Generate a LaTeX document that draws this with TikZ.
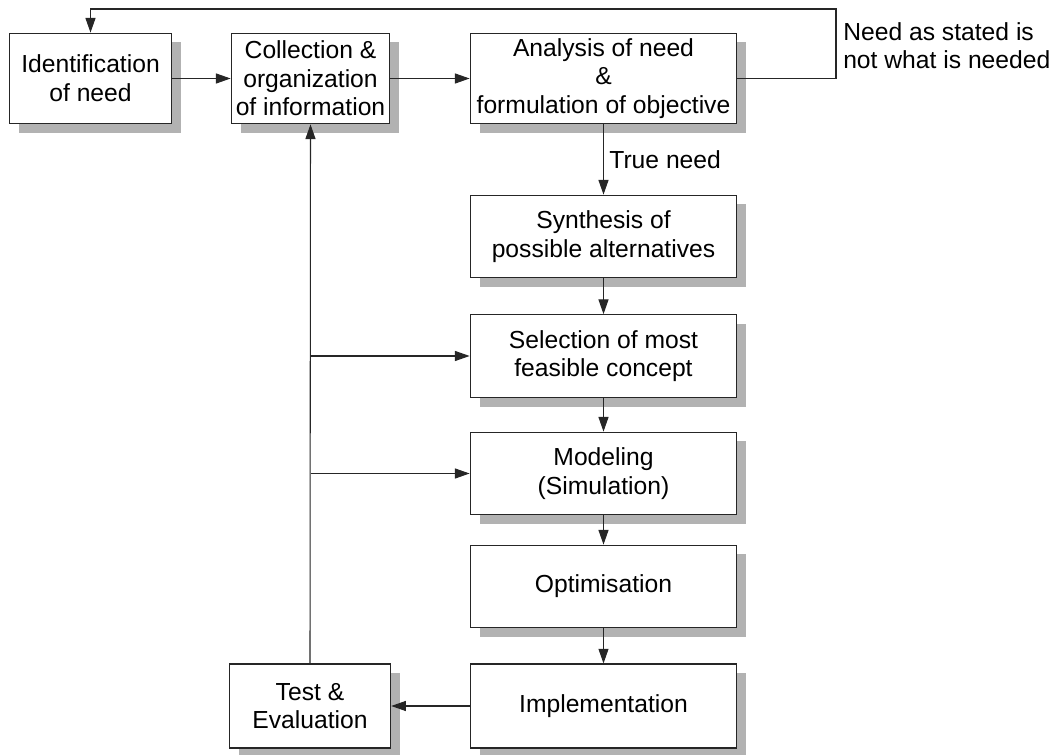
\documentclass[tikz,border=0pt]{standalone}
\usepackage{fontspec}
\setmainfont{Liberation Sans}
\usetikzlibrary{arrows.meta,shadows}
\begin{document}
\begin{tikzpicture}[x=0.75pt,y=-0.75pt,
  box/.style={draw=black!85, line width=0.8pt, fill=white, align=center,
    inner sep=0pt, font=\fontsize{18.5}{21.5}\selectfont,
    drop shadow={shadow xshift=7pt, shadow yshift=-7pt, fill=black!30, opacity=1}},
  flow/.style={draw=black!85, line width=0.8pt, -{Triangle[length=11pt,width=7.5pt]}},
  lbl/.style={font=\fontsize{18.5}{21.5}\selectfont, align=left, inner sep=0pt}]
\useasboundingbox (0,0) rectangle (1061,755);

% top row
\node[box, minimum width=121pt, minimum height=68pt] (idn) at (90.5,78.5) {Identification\\of need};
\node[box, minimum width=119pt, minimum height=68pt] (col) at (310.5,78.5) {Collection \&\\organization\\of information};
\node[box, minimum width=200pt, minimum height=68pt] (ana) at (603.5,78.5) {Analysis of need\\\&\\formulation of objective};

% design column
\node[box, minimum width=200pt, minimum height=62pt] (syn) at (603.5,236.5) {Synthesis of\\possible alternatives};
\node[box, minimum width=200pt, minimum height=62pt] (sel) at (603.5,356) {Selection of most\\feasible concept};
\node[box, minimum width=200pt, minimum height=62pt] (mod) at (603.5,473.5) {Modeling\\(Simulation)};
\node[box, minimum width=200pt, minimum height=62pt] (opt) at (603.5,586.5) {Optimisation};
\node[box, minimum width=200pt, minimum height=63pt] (imp) at (603.5,706) {Implementation};
\node[box, minimum width=121pt, minimum height=63pt] (tst) at (310,706) {Test \&\\Evaluation};

% forward flow
\draw[flow] (idn) -- (col);
\draw[flow] (col) -- (ana);
\draw[flow] (ana) -- node[lbl, right=4pt, pos=0.5] (tn) {True need} (syn);
\draw[flow] (syn) -- (sel);
\draw[flow] (sel) -- (mod);
\draw[flow] (mod) -- (opt);
\draw[flow] (opt) -- (imp);
\draw[flow] (imp) -- (tst);

% restatement of the need
\coordinate (fa) at (836,78.5);
\coordinate (fb) at (836,9);
\coordinate (fc) at (90.5,9);
\draw[flow] (ana.east) -- (fa) -- (fb) -- (fc) -- (idn.north);
\node[lbl, anchor=north west] (nd) at (843,22) {Need as stated is\\not what is needed};

% feedback from testing
\coordinate (b1) at (310.5,356);
\coordinate (b2) at (310.5,473.5);
\draw[flow] (tst.north) -- (col.south);
\draw[flow] (b1) -- (sel.west);
\draw[flow] (b2) -- (mod.west);
\end{tikzpicture}
\end{document}
